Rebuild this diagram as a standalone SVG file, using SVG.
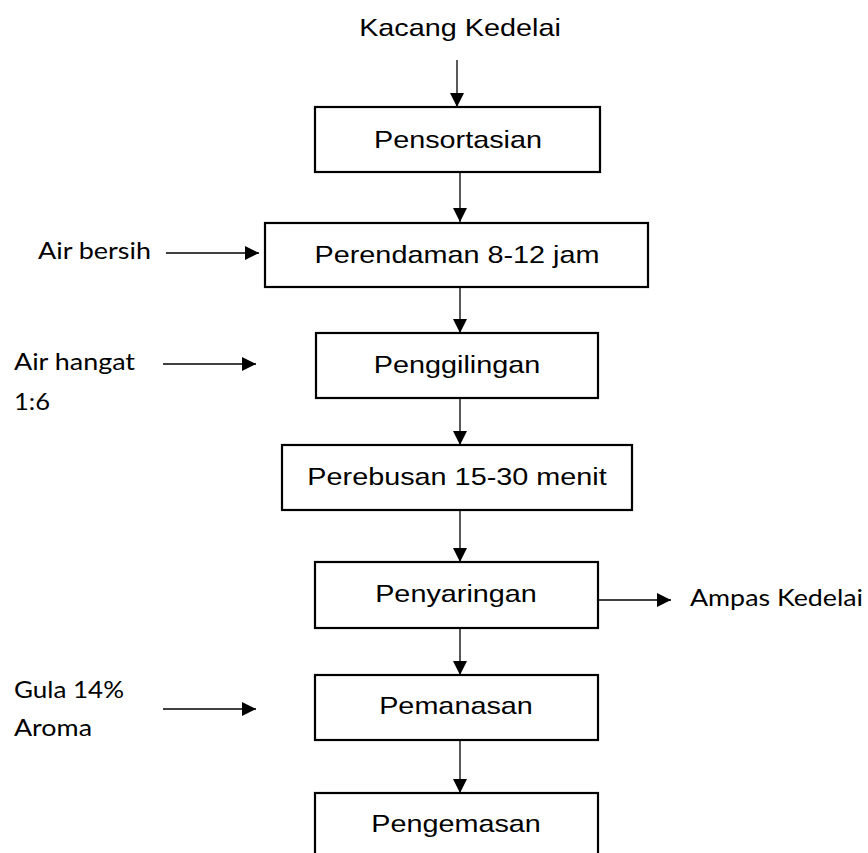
<svg xmlns="http://www.w3.org/2000/svg" width="868" height="853" viewBox="0 0 868 853">
<defs>
<marker id="ah" viewBox="0 0 10 10" refX="10" refY="5" markerWidth="14" markerHeight="14" markerUnits="userSpaceOnUse" orient="auto">
<path d="M0,0 L10,5 L0,10 Z" fill="#000"/>
</marker>
<style>
.box{fill:#fff;stroke:#000;stroke-width:2.2}
.arial{font-family:"Liberation Sans",Arial,sans-serif;font-size:24px;fill:#000}
.cal{font-family:Lato,"Open Sans",sans-serif;font-size:24px;fill:#000}
.conn line{stroke:#000;stroke-width:1.3;marker-end:url(#ah)}
</style>
</defs>
<rect width="868" height="853" fill="#fff"/>
<g id="input-kacang"><text class="arial" text-anchor="middle" transform="translate(460,36) scale(1.2,1)">Kacang Kedelai</text></g>
<g id="n1"><rect class="box" x="315" y="107" width="285" height="65"/><text class="arial" text-anchor="middle" transform="translate(458,148) scale(1.2,1)">Pensortasian</text></g>
<g id="n2"><rect class="box" x="265" y="223" width="383" height="64"/><text class="arial" text-anchor="middle" transform="translate(457,263) scale(1.2,1)">Perendaman 8-12 jam</text></g>
<g id="n3"><rect class="box" x="316" y="333" width="282" height="65"/><text class="arial" text-anchor="middle" transform="translate(457,373) scale(1.2,1)">Penggilingan</text></g>
<g id="n4"><rect class="box" x="282" y="445" width="350" height="65"/><text class="arial" text-anchor="middle" transform="translate(457,485) scale(1.2,1)">Perebusan 15-30 menit</text></g>
<g id="n5"><rect class="box" x="315" y="562" width="283" height="66"/><text class="arial" text-anchor="middle" transform="translate(456,602) scale(1.2,1)">Penyaringan</text></g>
<g id="n6"><rect class="box" x="315" y="675" width="283" height="65"/><text class="arial" text-anchor="middle" transform="translate(456,714) scale(1.2,1)">Pemanasan</text></g>
<g id="n7"><rect class="box" x="315" y="793" width="283" height="70"/><text class="arial" text-anchor="middle" transform="translate(456,832) scale(1.2,1)">Pengemasan</text></g>
<g id="side-labels">
<text class="cal" x="38" y="259" textLength="113" lengthAdjust="spacingAndGlyphs">Air bersih</text>
<text class="cal" x="14" y="370" textLength="121" lengthAdjust="spacingAndGlyphs">Air hangat</text>
<text class="cal" x="14" y="410" textLength="36" lengthAdjust="spacingAndGlyphs">1:6</text>
<text class="cal" x="14" y="698" textLength="110" lengthAdjust="spacingAndGlyphs">Gula 14%</text>
<text class="cal" x="14" y="736" textLength="78" lengthAdjust="spacingAndGlyphs">Aroma</text>
<text class="cal" x="690" y="606" textLength="173" lengthAdjust="spacingAndGlyphs">Ampas Kedelai</text>
</g>
<g id="connectors" class="conn">
<line x1="457" y1="60" x2="457" y2="107"/>
<line x1="460" y1="172" x2="460" y2="222"/>
<line x1="460" y1="287" x2="460" y2="333"/>
<line x1="460" y1="398" x2="460" y2="445"/>
<line x1="460" y1="510" x2="460" y2="562"/>
<line x1="460" y1="628" x2="460" y2="675"/>
<line x1="460" y1="740" x2="460" y2="793"/>
<line x1="166" y1="253" x2="259" y2="253"/>
<line x1="163" y1="364" x2="256" y2="364"/>
<line x1="163" y1="709" x2="256" y2="709"/>
<line x1="598" y1="600" x2="671" y2="600"/>
</g>
</svg>
